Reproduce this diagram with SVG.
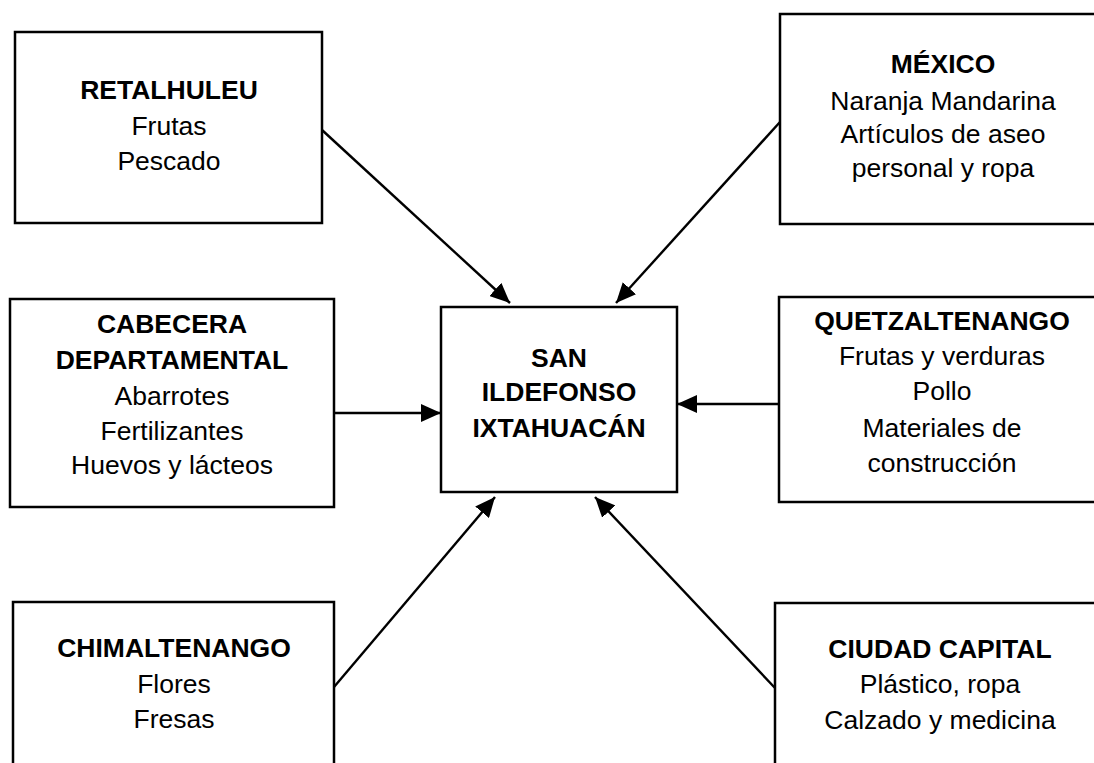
<svg xmlns="http://www.w3.org/2000/svg" width="1094" height="763" viewBox="0 0 1094 763">
<style>
.box{fill:#fff;stroke:#000;stroke-width:2.5}
text{font-family:"Liberation Sans",Arial,sans-serif;font-size:26.5px;fill:#000;text-anchor:middle}
.b{font-weight:bold}
.conn{stroke:#000;stroke-width:2.4;fill:none;marker-end:url(#ah)}
</style>
<defs>
<marker id="ah" markerUnits="userSpaceOnUse" markerWidth="22" markerHeight="18" refX="20" refY="9" orient="auto">
<path d="M0,0 L20,9 L0,18 Z" fill="#000"/>
</marker>
</defs>
<rect width="1094" height="763" fill="#fff"/>
<g id="connectors">
<line class="conn" x1="322" y1="130" x2="510" y2="303"/>
<line class="conn" x1="780" y1="122" x2="616" y2="303"/>
<line class="conn" x1="334" y1="413" x2="441" y2="413"/>
<line class="conn" x1="780" y1="404" x2="677" y2="404"/>
<line class="conn" x1="334" y1="687" x2="495" y2="497"/>
<line class="conn" x1="775" y1="688" x2="595" y2="497"/>
</g>
<g id="retalhuleu">
<rect class="box" x="15" y="32" width="307" height="191"/>
<text x="169" y="99" class="b">RETALHULEU</text>
<text x="169" y="135">Frutas</text>
<text x="169" y="170">Pescado</text>
</g>
<g id="mexico">
<rect class="box" x="780" y="14" width="330" height="210"/>
<text x="943" y="73" class="b">MÉXICO</text>
<text x="943" y="110">Naranja Mandarina</text>
<text x="943" y="143">Artículos de aseo</text>
<text x="943" y="177">personal y ropa</text>
</g>
<g id="cabecera">
<rect class="box" x="10" y="299" width="324" height="208"/>
<text x="172" y="333" class="b">CABECERA</text>
<text x="172" y="369" class="b">DEPARTAMENTAL</text>
<text x="172" y="405">Abarrotes</text>
<text x="172" y="440">Fertilizantes</text>
<text x="172" y="474">Huevos y lácteos</text>
</g>
<g id="center">
<rect class="box" x="441" y="307" width="236" height="185"/>
<text x="559" y="367" class="b">SAN</text>
<text x="559" y="401" class="b">ILDEFONSO</text>
<text x="559" y="437" class="b">IXTAHUACÁN</text>
</g>
<g id="quetzaltenango">
<rect class="box" x="779" y="297" width="330" height="205"/>
<text x="942" y="330" class="b">QUETZALTENANGO</text>
<text x="942" y="365">Frutas y verduras</text>
<text x="942" y="400">Pollo</text>
<text x="942" y="437">Materiales de</text>
<text x="942" y="472">construcción</text>
</g>
<g id="chimaltenango">
<rect class="box" x="13" y="602" width="321" height="180"/>
<text x="174" y="657" class="b">CHIMALTENANGO</text>
<text x="174" y="693">Flores</text>
<text x="174" y="728">Fresas</text>
</g>
<g id="ciudad">
<rect class="box" x="775" y="603" width="340" height="180"/>
<text x="940" y="658" class="b">CIUDAD CAPITAL</text>
<text x="940" y="693">Plástico, ropa</text>
<text x="940" y="729">Calzado y medicina</text>
</g>
</svg>
